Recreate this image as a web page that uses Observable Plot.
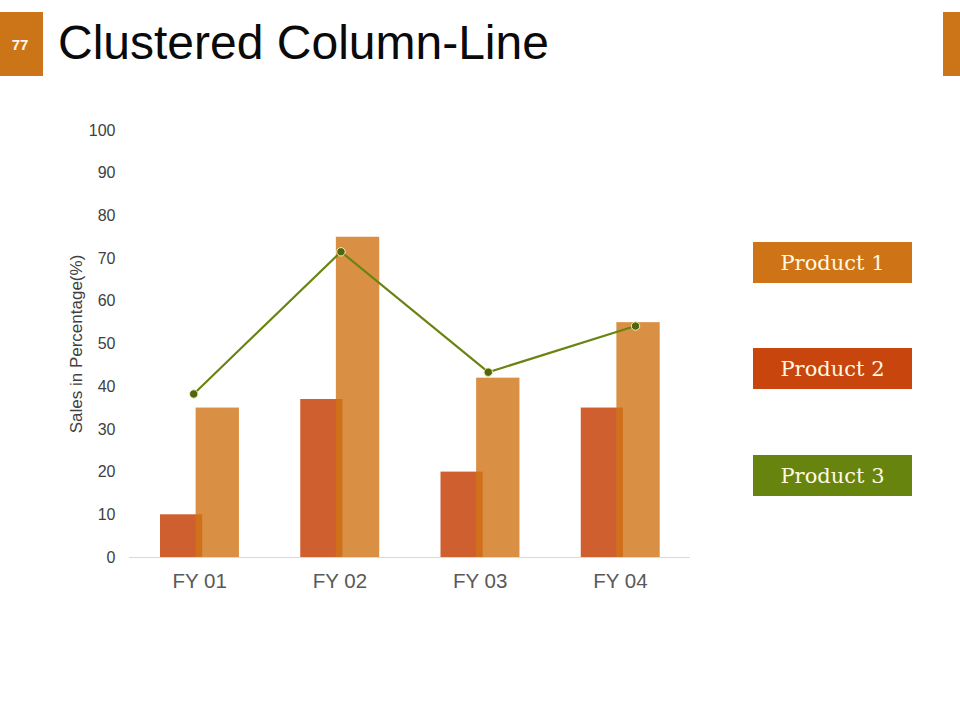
<!DOCTYPE html>
<html>
<head>
<meta charset="utf-8">
<script src="https://cdn.jsdelivr.net/npm/d3@7"></script>
<script src="https://cdn.jsdelivr.net/npm/@observablehq/plot@0.6"></script>
<style>
  html, body { margin: 0; padding: 0; background: #ffffff; }
  #page { position: relative; width: 960px; height: 720px; overflow: hidden; background: #ffffff; font-family: "Liberation Sans", Arial, sans-serif; }
  #numbox { position: absolute; left: 0; top: 12px; width: 43px; height: 64px; background: #cc7418; color: #fff8ea; font: bold 15px "Liberation Sans", Arial, sans-serif; display: flex; align-items: center; justify-content: center; padding-right: 3px; box-sizing: border-box; }
  #rightbox { position: absolute; left: 943px; top: 12px; width: 17px; height: 64px; background: #cc7418; }
  #title { position: absolute; left: 58px; top: 18.5px; font-size: 48px; line-height: 1; color: #0a0a0a; white-space: nowrap; }
  #chart { position: absolute; left: 0; top: 0; }
  .legend-item { position: absolute; left: 753px; width: 159px; height: 41px; display: flex; align-items: center; justify-content: center; color: #fff8e6; font: 21px "DejaVu Serif", serif; letter-spacing: 0; }
</style>
</head>
<body>
<div id="page">
  <div id="numbox"></div>
  <div id="rightbox"></div>
  <div id="title"></div>
  <div id="chart"></div>
</div>
<script>
// ---- Data ----
const slideNumber = "77";
const titleText = "Clustered Column-Line";
const years = ["FY 01", "FY 02", "FY 03", "FY 04"];
const product1 = [35, 75, 42, 55];          // lighter orange columns
const product2 = [10, 37, 20, 35];          // red-orange columns
const product3 = [38.3, 71.6, 43.4, 54.2];  // green line
const yTicks = [0, 10, 20, 30, 40, 50, 60, 70, 80, 90, 100];
const seriesNames = ["Product 1", "Product 2", "Product 3"];
const seriesColors = ["#cf7416", "#c8450e", "#67850e"];
const yLabel = "Sales in Percentage(%)";

// ---- Layout constants ----
const red = {from: 0.221, to: 0.522};
const orange = {from: 0.475, to: 0.784};
const lineStart = 0.458, lineStep = 1.05;
const legendTops = [242, 348, 455];

document.getElementById("numbox").textContent = slideNumber;
document.getElementById("title").textContent = titleText;

const rows = years.map((year, i) => ({year, i, p1: product1[i], p2: product2[i], p3: product3[i]}));

const chart = Plot.plot({
  width: 960,
  height: 620,
  marginLeft: 129,
  marginRight: 270,
  marginTop: 130,
  marginBottom: 63,
  style: {background: "transparent", fontFamily: "'Liberation Sans', Arial, sans-serif"},
  x: {type: "linear", domain: [0, years.length]},
  y: {domain: [0, 100]},
  marks: [
    Plot.axisY({ticks: yTicks, tickSize: 0, tickPadding: 14, fontSize: 16, color: "#404040", label: null}),
    Plot.axisX({ticks: years.map((_, i) => i + 0.5), tickFormat: d => years[Math.floor(d)], tickSize: 0, tickPadding: 16, fontSize: 20.5, color: "#595959", label: null}),
    Plot.text([yLabel], {frameAnchor: "left", textAnchor: "middle", rotate: -90, dx: -53, fontSize: 17, fill: "#404040", text: d => d}),
    Plot.ruleY([0], {stroke: "#d9d9d9", strokeWidth: 1.2}),
    Plot.rectY(rows, {x1: d => d.i + red.from, x2: d => d.i + red.to, y1: 0, y2: "p2", fill: seriesColors[1], fillOpacity: 0.86}),
    Plot.rectY(rows, {x1: d => d.i + orange.from, x2: d => d.i + orange.to, y1: 0, y2: "p1", fill: seriesColors[0], fillOpacity: 0.8}),
    Plot.line(rows, {x: d => lineStart + d.i * lineStep, y: "p3", stroke: "#6a8413", strokeWidth: 2.2}),
    Plot.dot(rows, {x: d => lineStart + d.i * lineStep, y: "p3", r: 4.2, fill: "#4f6512", stroke: "#f2f0b0", strokeWidth: 1})
  ]
});
document.getElementById("chart").appendChild(chart);

const page = document.getElementById("page");
seriesNames.forEach((name, k) => {
  const div = document.createElement("div");
  div.className = "legend-item";
  div.style.top = legendTops[k] + "px";
  div.style.background = seriesColors[k];
  div.textContent = name;
  page.appendChild(div);
});
</script>
</body>
</html>
